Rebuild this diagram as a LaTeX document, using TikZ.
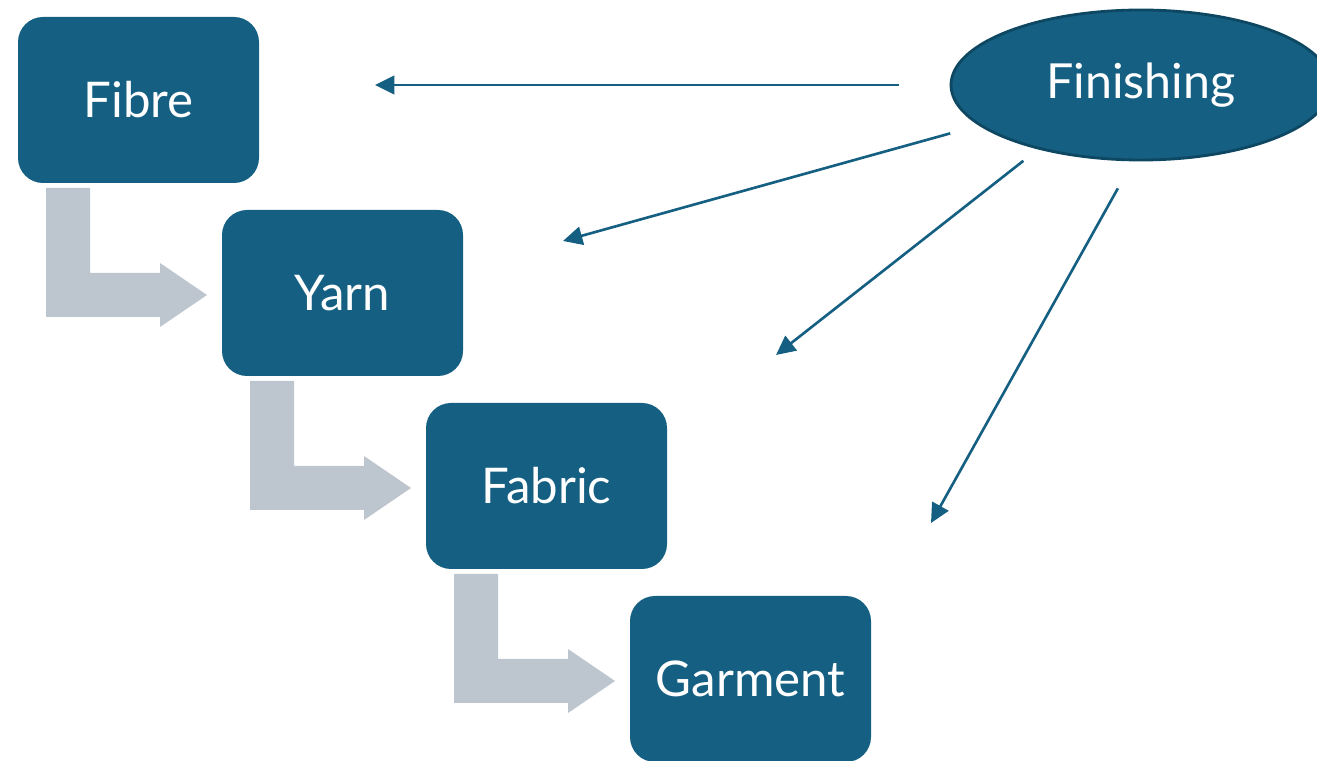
\documentclass[tikz,border=0pt]{standalone}
\usepackage{fontspec}
\setmainfont{Lato}
\usetikzlibrary{positioning,shapes.geometric,arrows.meta}
\definecolor{stagefill}{HTML}{156082}
\definecolor{stageline}{HTML}{0E4762}
\definecolor{stepgray}{HTML}{BDC5CE}
\begin{document}
\begin{tikzpicture}
\tikzstyle{stagebox} = [rectangle, rounded corners=0.5cm, minimum width=4.82cm, minimum height=3.32cm, text centered, fill=stagefill, text=white, font=\fontsize{28}{32}\selectfont]
\tikzstyle{finishoval} = [ellipse, minimum width=7.6cm, minimum height=3cm, inner sep=0pt, fill=stagefill, draw=stageline, line width=1.6pt, text=white, font=\fontsize{27.5}{32}\selectfont]
\tikzstyle{feedback} = [stagefill, line width=1.5pt, -{Triangle[length=11pt,width=10.5pt]}]
\useasboundingbox (0,0) rectangle (26.34,-15.22);
\node (Fibre)[stagebox] at (2.77,-2) {Fibre};
\node (Yarn)[stagebox] at ([xshift=4.08cm,yshift=-3.86cm]Fibre) {Yarn};
\node (Fabric)[stagebox] at ([xshift=4.08cm,yshift=-3.86cm]Yarn) {Fabric};
\node (Garment)[stagebox] at ([xshift=4.08cm,yshift=-3.86cm]Fabric) {Garment};
\node (Finishing)[finishoval] at (22.82,-1.7) {Finishing};
% bent grey steps between the stages
\foreach \a in {Fibre,Yarn,Fabric}
  \fill [stepgray, shift={(\a)}] (-1.85,-1.76) -- (-0.97,-1.76) -- (-0.97,-3.46) -- (0.43,-3.46) -- (0.43,-3.26) -- (1.37,-3.90) -- (0.43,-4.54) -- (0.43,-4.34) -- (-1.85,-4.34) -- cycle;
% open ends of the feedback arrows
\coordinate (toFibre) at (7.5,-1.7);
\coordinate (toYarn) at (11.26,-4.82);
\coordinate (toFabric) at (15.52,-7.1);
\coordinate (toGarment) at (18.62,-10.46);
\draw [feedback, shorten <=1.02cm] (Finishing.180) -- (toFibre);
\draw [feedback, shorten <=0.59cm] (Finishing.194) -- (toYarn);
\draw [feedback, shorten <=0.37cm] (Finishing.212) -- (toFabric);
\draw [feedback, shorten <=0.62cm] (Finishing.264.7) -- (toGarment);
\end{tikzpicture}
\end{document}
